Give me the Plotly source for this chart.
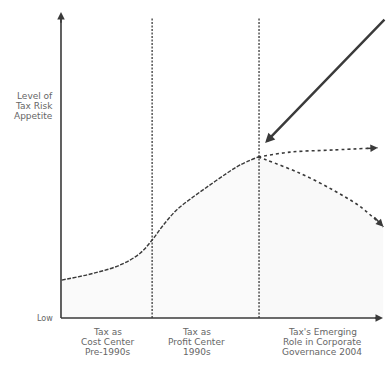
import plotly.graph_objects as go

# Stages of tax function evolution (x: time axis units, y: risk appetite units)
stage_boundaries = [28.3, 61.5]
stage_labels = [
    ["Tax as", "Cost Center", "Pre-1990s"],
    ["Tax as", "Profit Center", "1990s"],
    ["Tax's Emerging", "Role in Corporate", "Governance 2004"],
]
stage_label_x = [14.3, 42.2, 81.1]
y_title_lines = ["Level of", "Tax Risk", "Appetite"]

# Historical level of tax risk appetite
curve_x = [0.2, 10.0, 18.3, 24.5, 28.3, 31.8, 35.9, 41.1, 46.3, 51.5, 55.6, 61.2]
curve_y = [12.4, 14.6, 17.3, 21.1, 25.5, 30.4, 35.3, 39.6, 43.5, 47.3, 50.0, 52.6]

# Possible future paths from 2004
flat_x = [61.2, 71.1, 84.5, 98.4]
flat_y = [52.6, 54.2, 54.9, 55.6]
down_x = [61.2, 63.9, 74.2, 84.5, 92.9, 100.1]
down_y = [52.6, 51.6, 47.3, 41.8, 36.4, 29.8]

# Pointer arrow (tail -> head)
pointer_tail = (100.9, 98.0)
pointer_head = (63.4, 57.2)

axis_top = 100
axis_right = 100
line_top = 98

ink = "#3a3a3a"
text_col = "#666666"
font = "DejaVu Sans"

fig = go.Figure()

# faint stipple-like shading under the curve and the downward path
fig.add_trace(go.Scatter(x=curve_x, y=curve_y, mode="lines", line=dict(width=0),
                         fill="tozeroy", fillcolor="rgba(0,0,0,0.018)", hoverinfo="skip"))
fig.add_trace(go.Scatter(x=down_x, y=down_y, mode="lines", line=dict(width=0),
                         fill="tozeroy", fillcolor="rgba(0,0,0,0.025)", hoverinfo="skip"))

fig.add_trace(go.Scatter(x=curve_x, y=curve_y, mode="lines",
                         line=dict(color=ink, width=1.4, shape="spline", dash="4px,1.5px"),
                         hoverinfo="skip"))
fig.add_trace(go.Scatter(x=flat_x, y=flat_y, mode="lines",
                         line=dict(color=ink, width=1.6, shape="spline", dash="3px,3px"),
                         hoverinfo="skip"))
fig.add_trace(go.Scatter(x=down_x, y=down_y, mode="lines",
                         line=dict(color=ink, width=1.6, shape="spline", dash="3px,3px"),
                         hoverinfo="skip"))

# stage separators
for bx in stage_boundaries:
    fig.add_trace(go.Scatter(x=[bx, bx], y=[0, line_top], mode="lines",
                             line=dict(color=ink, width=1.3, dash="2px,1.5px"), hoverinfo="skip"))

# axes
fig.add_trace(go.Scatter(x=[0, 0], y=[0, axis_top - 2], mode="lines",
                         line=dict(color=ink, width=1.6), hoverinfo="skip"))
fig.add_trace(go.Scatter(x=[0, axis_right - 1], y=[0, 0], mode="lines",
                         line=dict(color=ink, width=1.6), hoverinfo="skip"))

def arrow(head, tail, width=1.5, size=1.0):
    fig.add_annotation(x=head[0], y=head[1], ax=tail[0], ay=tail[1],
                       xref="x", yref="y", axref="x", ayref="y",
                       showarrow=True, arrowhead=2, arrowsize=size,
                       arrowwidth=width, arrowcolor=ink, text="")

arrow((0, axis_top), (0, axis_top - 4))
arrow((axis_right, 0), (axis_right - 3, 0))
arrow((flat_x[-1], flat_y[-1]), (flat_x[-2] + 10, flat_y[-2] + 0.5))
arrow((down_x[-1], down_y[-1]), (down_x[-2] + 4, down_y[-2] - 3))
arrow(pointer_head, pointer_tail, width=2.4, size=0.8)

def label(x, y, text, anchor="center", size=9):
    fig.add_annotation(x=x, y=y, xref="x", yref="y", showarrow=False, text=text,
                       xanchor=anchor, yanchor="middle",
                       font=dict(family=font, size=size, color=text_col))

# axis title, one line at a time for tight spacing
for i, line in enumerate(y_title_lines):
    label(-1.9, 72.5 - 3.25 * i, line, anchor="right")
label(-1.9, 0, "Low", anchor="right", size=8)

for lx, lines in zip(stage_label_x, stage_labels):
    for i, line in enumerate(lines):
        label(lx, -4.6 - 3.25 * i, line)

fig.update_layout(
    width=386, height=367,
    margin=dict(l=0, r=0, t=0, b=0),
    paper_bgcolor="white", plot_bgcolor="white",
    showlegend=False,
    xaxis=dict(range=[-18.94, 100.93], visible=False, fixedrange=True),
    yaxis=dict(range=[-16.0, 103.9], visible=False, fixedrange=True),
)

fig.write_html("out.html", config={"displayModeBar": False})
